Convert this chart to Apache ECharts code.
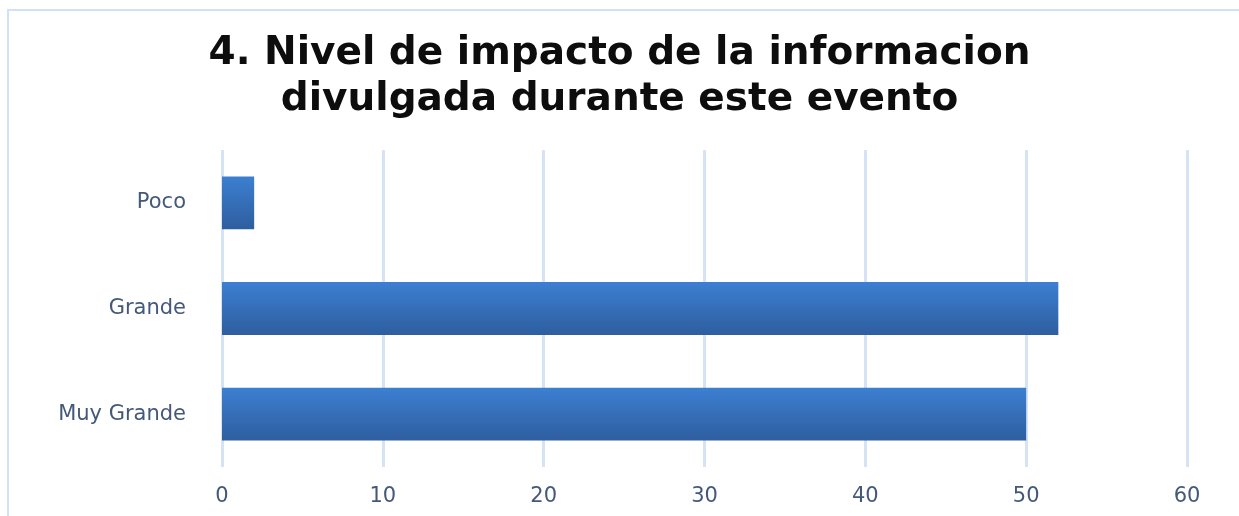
<!DOCTYPE html>
<html>
<head>
<meta charset="utf-8">
<script src="https://cdn.jsdelivr.net/npm/echarts@6/dist/echarts.min.js"></script>
<style>
  html, body { margin: 0; padding: 0; background: #fff; }
  #frame { position: absolute; left: 7px; top: 9px; width: 1240px; height: 520px; border: 2px solid #d2e1f4; box-sizing: border-box; }
  #chart { position: absolute; left: 0; top: 0; width: 1239px; height: 516px; }
</style>
</head>
<body>
<div id="frame"></div>
<div id="chart"></div>
<script>
const categories = ["Muy Grande", "Grande", "Poco"];
const values = [50, 52, 2];
const xTicks = { min: 0, max: 60, interval: 10 };

const chart = echarts.init(document.getElementById("chart"));
const option = {
  title: {
    text: "4. Nivel de impacto de la informacion\ndivulgada durante este evento",
    left: "center",
    top: 26,
    textStyle: {
      fontFamily: "DejaVu Sans",
      fontWeight: "bold",
      fontSize: 39,
      lineHeight: 46,
      color: "#0d0d0d",
    },
  },
  grid: {
    left: 222,
    right: 52,
    top: 150,
    bottom: 49,
  },
  xAxis: {
    type: "value",
    min: xTicks.min,
    max: xTicks.max,
    interval: xTicks.interval,
    axisLine: { show: false },
    axisTick: { show: false },
    axisLabel: {
      margin: 19,
      fontFamily: "DejaVu Sans",
      fontSize: 21,
      color: "#44597a",
    },
    splitLine: {
      lineStyle: { color: "#d5e3f5", width: 3 },
    },
  },
  yAxis: {
    type: "category",
    data: categories,
    axisLine: { show: false },
    axisTick: { show: false },
    axisLabel: {
      margin: 36,
      fontFamily: "DejaVu Sans",
      fontSize: 21,
      color: "#44597a",
    },
  },
  series: [
    {
      type: "bar",
      data: values,
      barWidth: "50%",
      itemStyle: {
        color: new echarts.graphic.LinearGradient(0, 0, 0, 1, [
          { offset: 0, color: "#3c7fd1" },
          { offset: 1, color: "#2e5e9f" },
        ]),
        shadowColor: "rgba(0,0,0,0.25)",
        shadowBlur: 5,
        shadowOffsetX: 2,
        shadowOffsetY: 3,
      },
    },
  ],
};
chart.setOption(option, true);
window.onresize = () => {
  chart.resize();
};
</script>
</body>
</html>
